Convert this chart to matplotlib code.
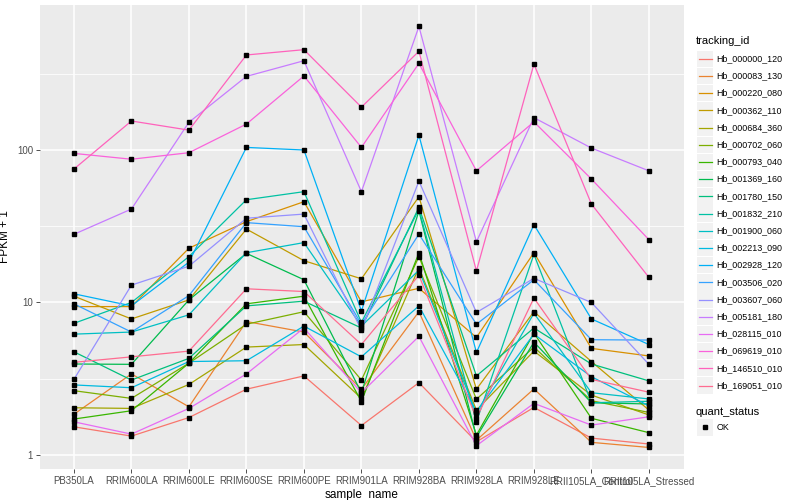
import numpy as np
import matplotlib.pyplot as plt
from matplotlib.patches import Rectangle

plt.rcParams['font.family'] = ['Liberation Sans', 'DejaVu Sans']

samples = ["PB350LA", "RRIM600LA", "RRIM600LE", "RRIM600SE", "RRIM600PE",
           "RRIM901LA", "RRIM928BA", "RRIM928LA", "RRIM928LE",
           "RRII105LA_Control", "RRII105LA_Stressed"]

tracking_ids = ["Hb_000000_120", "Hb_000083_130", "Hb_000220_080", "Hb_000362_110",
                "Hb_000684_360", "Hb_000702_060", "Hb_000793_040", "Hb_001369_160",
                "Hb_001780_150", "Hb_001832_210", "Hb_001900_060", "Hb_002213_090",
                "Hb_002928_120", "Hb_003506_020", "Hb_003607_060", "Hb_005181_180",
                "Hb_028115_010", "Hb_069619_010", "Hb_146510_010", "Hb_169051_010"]

# ggplot hue palette, 20 levels
colors = ["#F8766D", "#EA8331", "#D89000", "#C09B00", "#A3A500", "#7CAE00", "#39B600",
          "#00BB4E", "#00BF7D", "#00C1A3", "#00BFC4", "#00BAE0", "#00B0F6", "#35A2FF",
          "#9590FF", "#C77CFF", "#E76BF3", "#FA62DB", "#FF62BC", "#FF6C91"]

# FPKM + 1 per sample (order of samples above)
hb_000000_120 = [1.53, 1.33, 1.76, 2.7, 3.3, 1.56, 2.98, 1.22, 2.05, 1.29, 1.18]
hb_000083_130 = [1.85, 3.4, 2.07, 7.5, 6.4, 2.7, 8.7, 1.25, 2.71, 1.21, 1.12]
hb_000220_080 = [9.4, 9.4, 22.7, 33.9, 45.8, 10.1, 12.4, 5.9, 21.2, 5.0, 4.46]
hb_000362_110 = [11.0, 7.8, 10.4, 30.3, 18.8, 14.3, 49.4, 2.7, 8.7, 4.1, 1.97]
hb_000684_360 = [2.04, 2.02, 2.9, 5.1, 5.3, 2.35, 16.9, 1.97, 4.8, 2.47, 1.83]
hb_000702_060 = [2.64, 2.35, 4.0, 7.2, 8.7, 3.1, 20.0, 2.32, 5.1, 2.27, 1.9]
hb_000793_040 = [1.72, 1.95, 4.0, 9.8, 11.0, 2.24, 21.2, 1.35, 6.3, 1.74, 1.40]
hb_001369_160 = [3.95, 3.93, 10.4, 21.0, 14.1, 2.56, 39.8, 1.31, 5.5, 2.2, 2.16]
hb_001780_150 = [4.75, 3.1, 4.3, 9.5, 10.2, 6.8, 42.1, 3.3, 6.8, 3.95, 3.06]
hb_001832_210 = [7.3, 10.0, 20.0, 47.2, 53.3, 7.4, 40.8, 1.65, 20.7, 2.2, 2.25]
hb_001900_060 = [6.2, 6.4, 8.3, 21.2, 24.7, 7.0, 16.3, 1.88, 8.5, 2.56, 2.33]
hb_002213_090 = [2.88, 2.76, 4.1, 4.15, 7.0, 4.4, 9.5, 1.92, 6.2, 3.26, 2.1]
hb_002928_120 = [11.4, 9.5, 18.4, 104, 100, 8.8, 125, 4.7, 32.4, 7.8, 5.3]
hb_003506_020 = [9.8, 6.4, 11.1, 33.4, 31.4, 7.2, 28.1, 7.2, 14.1, 5.7, 5.67]
hb_003607_060 = [3.13, 13.0, 17.3, 35.7, 38.0, 6.6, 62.6, 8.6, 14.4, 10.0, 3.93]
hb_005181_180 = [28, 41, 152, 304, 385, 53.3, 646, 25, 163, 103, 73]
hb_028115_010 = [1.65, 1.37, 2.02, 3.4, 6.8, 2.56, 6.0, 1.15, 2.18, 1.57, 1.78]
hb_069619_010 = [95, 87, 96, 148, 306, 104, 370, 73, 153, 64.5, 25.8]
hb_146510_010 = [75, 155, 135, 420, 455, 191, 444, 16.1, 366, 44.2, 14.6]
hb_169051_010 = [4.05, 4.4, 4.8, 12.3, 11.8, 5.3, 15.1, 1.74, 10.7, 3.13, 2.58]

series = [hb_000000_120, hb_000083_130, hb_000220_080, hb_000362_110, hb_000684_360,
          hb_000702_060, hb_000793_040, hb_001369_160, hb_001780_150, hb_001832_210,
          hb_001900_060, hb_002213_090, hb_002928_120, hb_003506_020, hb_003607_060,
          hb_005181_180, hb_028115_010, hb_069619_010, hb_146510_010, hb_169051_010]

fig = plt.figure(figsize=(8, 5), dpi=100)
ax = fig.add_axes([40/800, 31/500, 644/800, 464/500])
ax.set_facecolor("#EBEBEB")
for s in ax.spines.values():
    s.set_visible(False)

x = np.arange(len(samples))
for vals, c in zip(series, colors):
    ax.plot(x, vals, color=c, lw=0.9, zorder=3)
for vals in series:
    ax.plot(x, vals, ls="none", marker="s", ms=2.3, color="black", zorder=4)

ax.set_yscale("log")
ax.set_ylim(10**-0.092, 10**2.951)
ax.set_xlim(-0.59, 10.61)
ax.set_yticks([1, 10, 100])
ax.set_yticklabels(["1", "10", "100"])
ax.set_yticks([10**0.5, 10**1.5, 10**2.5], minor=True)
ax.yaxis.set_minor_formatter(plt.NullFormatter())
ax.set_xticks(x)
ax.set_xticklabels(samples)
ax.grid(True, which="major", color="white", lw=1.1, zorder=1)
ax.grid(True, which="minor", axis="y", color="white", lw=0.55, zorder=1)
ax.set_axisbelow(True)
ax.tick_params(which="major", length=3, width=0.6, color="#333333",
               labelsize=7, labelcolor="#4D4D4D", pad=2)
ax.tick_params(which="minor", length=0)
ax.set_xlabel("sample_name", fontsize=8.5, labelpad=2)
ax.set_ylabel("FPKM + 1", fontsize=8.5, labelpad=4)

# legend drawn in pixel coordinates
lg = fig.add_axes([690/800, 0, 110/800, 1])
lg.set_xlim(690, 800)
lg.set_ylim(500, 0)
lg.axis("off")
lg.text(696, 40.5, "tracking_id", fontsize=8, va="center", ha="left")
step = 17.2
for i, (name, c) in enumerate(zip(tracking_ids, colors)):
    yc = 58.7 + i * step
    lg.add_patch(Rectangle((697, yc - 8.2), 16.4, 16.4, color="#F2F2F2", lw=0))
    lg.plot([698.5, 711.5], [yc, yc], color=c, lw=0.9)
    lg.text(716.5, yc, name, fontsize=6.4, va="center", ha="left")
lg.text(696, 412, "quant_status", fontsize=8, va="center", ha="left")
lg.add_patch(Rectangle((697, 427.3 - 8.2), 16.4, 16.4, color="#F2F2F2", lw=0))
lg.plot([705], [427.3], marker="s", ms=2.3, color="black")
lg.text(716.5, 427.3, "OK", fontsize=6.4, va="center", ha="left")

fig.savefig("out.png", dpi=100)
